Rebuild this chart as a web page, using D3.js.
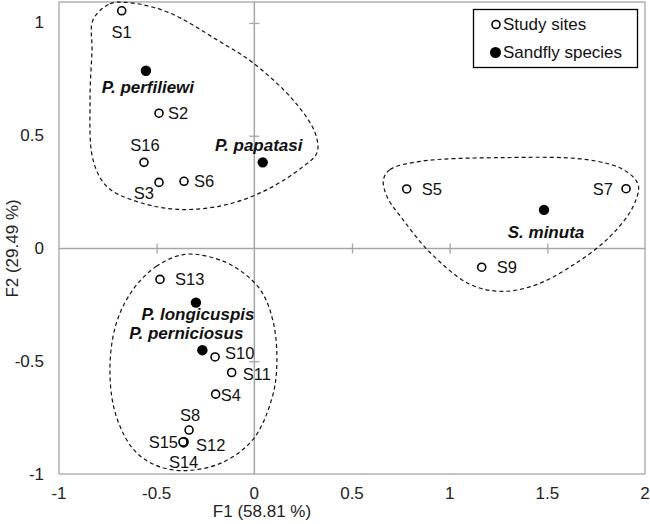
<!DOCTYPE html>
<html>
<head>
<meta charset="utf-8">
<script src="https://cdn.jsdelivr.net/npm/d3@7"></script>
<style>
  html, body { margin: 0; padding: 0; background: #fff; }
  svg text { font-family: "Liberation Sans", Arial, sans-serif; }
</style>
</head>
<body>
<svg id="chart" width="650" height="524"></svg>
<script>
// ---- data ----
const siteNames = ["S1","S2","S3","S4","S5","S6","S7","S8","S9","S10","S11","S12","S13","S14","S15","S16"];
const siteF1 = [-0.679,-0.488,-0.488,-0.198,0.780,-0.360,1.903,-0.334,1.164,-0.201,-0.116,-0.360,-0.483,-0.362,-0.365,-0.565];
const siteF2 = [1.054,0.600,0.293,-0.646,0.264,0.298,0.265,-0.805,-0.083,-0.481,-0.550,-0.857,-0.137,-0.862,-0.858,0.382];

const speciesNames = ["P. perfiliewi","P. papatasi","S. minuta","P. longicuspis","P. perniciosus"];
const speciesF1 = [-0.555,0.043,1.483,-0.299,-0.266];
const speciesF2 = [0.788,0.382,0.171,-0.240,-0.451];

const xTicks = [-1,-0.5,0,0.5,1,1.5,2];
const yTicks = [-1,-0.5,0,0.5,1];
const xTitle = "F1 (58.81 %)";
const yTitle = "F2 (29.49 %)";
const legendLabels = ["Study sites","Sandfly species"];

// group outlines (data units)
const hullTopX = [-0.826,-0.739,-0.621,-0.432,-0.191,-0.007,0.198,0.311,0.321,0.249,0.065,-0.140,-0.381,-0.601,-0.754,-0.826,-0.841,-0.831];
const hullTopY = [1.013,1.085,1.088,1.044,0.925,0.823,0.659,0.513,0.425,0.363,0.261,0.195,0.173,0.208,0.274,0.394,0.659,0.881];
const hullRightX = [0.661,0.695,0.848,1.273,1.704,1.888,1.965,1.939,1.821,1.652,1.448,1.273,1.104,0.900,0.761,0.679];
const hullRightY = [0.305,0.350,0.386,0.403,0.394,0.350,0.283,0.186,0.053,-0.062,-0.159,-0.190,-0.159,-0.018,0.128,0.230];
const hullBottomX = [-0.364,-0.500,-0.620,-0.705,-0.739,-0.713,-0.620,-0.500,-0.346,-0.159,-0.005,0.089,0.115,0.097,0.029,-0.108,-0.244];
const hullBottomY = [-0.027,-0.078,-0.181,-0.327,-0.521,-0.726,-0.890,-0.963,-0.985,-0.947,-0.845,-0.668,-0.521,-0.327,-0.181,-0.078,-0.034];

// ---- label placement (layout only: anchor, dx, dy in px) ----
const labelPlacement = {
  "S1": ["middle",0,21], "S2": ["start",9,0], "S3": ["end",-5,11], "S4": ["start",5,1],
  "S5": ["start",15,0], "S6": ["start",10,0], "S7": ["end",-13,0], "S8": ["middle",1,-15],
  "S9": ["start",15,0], "S10": ["start",10,-4], "S11": ["start",11,1], "S12": ["start",12,3],
  "S13": ["start",15,0], "S14": ["middle",0,19], "S15": ["end",-5,0], "S16": ["middle",1,-17],
  "P. perfiliewi": ["middle",2,17], "P. papatasi": ["middle",-4,-17], "S. minuta": ["middle",2,23],
  "P. longicuspis": ["middle",2,12], "P. perniciosus": ["middle",-16,-17]
};

// ---- chart ----
const svg = d3.select("#chart");
const L = 59, R = 645, T = 2, B = 474;
const x = d3.scaleLinear().domain([-1, 2]).range([L, R]);
const y = d3.scaleLinear().domain([-1, 1.093]).range([B, T]);
const gray = "#a6a6a6";

// plot border
svg.append("rect").attr("x", L).attr("y", T).attr("width", R - L).attr("height", B - T)
  .attr("fill", "none").attr("stroke", gray).attr("stroke-width", 1.3);

// zero axes with cross ticks
const xAxis = d3.axisBottom(x).tickValues(xTicks.filter(v => v !== 0 && v !== -1 && v !== 2))
  .tickSize(10).tickFormat("");
const gx = svg.append("g").attr("transform", `translate(0,${y(0) - 5})`).call(xAxis);
gx.select(".domain").remove();
gx.selectAll(".tick line").attr("stroke", gray).attr("stroke-width", 1.3);
svg.append("line").attr("x1", L).attr("x2", R).attr("y1", y(0)).attr("y2", y(0))
  .attr("stroke", gray).attr("stroke-width", 1.5);

const yAxis = d3.axisLeft(y).tickValues(yTicks.filter(v => v !== 0 && v !== -1))
  .tickSize(10).tickFormat("");
const gy = svg.append("g").attr("transform", `translate(${x(0) + 5},0)`).call(yAxis);
gy.select(".domain").remove();
gy.selectAll(".tick line").attr("stroke", gray).attr("stroke-width", 1.3);
svg.append("line").attr("x1", x(0)).attr("x2", x(0)).attr("y1", T).attr("y2", B)
  .attr("stroke", gray).attr("stroke-width", 1.5);

// tick labels
const fmt = v => String(v);
svg.append("g").selectAll("text").data(xTicks).join("text")
  .attr("x", d => x(d)).attr("y", B + 19).attr("text-anchor", "middle")
  .attr("dominant-baseline", "central").attr("font-size", 17).attr("fill", "#222").text(fmt);
svg.append("g").selectAll("text").data(yTicks).join("text")
  .attr("x", L - 15).attr("y", d => y(d)).attr("text-anchor", "end")
  .attr("dominant-baseline", "central").attr("font-size", 17).attr("fill", "#222").text(fmt);

// axis titles
svg.append("text").attr("x", (L + R) / 2 - 90).attr("y", 511).attr("text-anchor", "middle")
  .attr("dominant-baseline", "central").attr("font-size", 17).attr("fill", "#222").text(xTitle);
svg.append("text").attr("transform", `translate(12,${y(0)}) rotate(-90)`).attr("text-anchor", "middle")
  .attr("dominant-baseline", "central").attr("font-size", 17).attr("fill", "#222").text(yTitle);

// hulls
const line = d3.line().x(d => x(d[0])).y(d => y(d[1])).curve(d3.curveCatmullRomClosed.alpha(0.5));
[[hullTopX, hullTopY], [hullRightX, hullRightY], [hullBottomX, hullBottomY]].forEach(([hx, hy]) => {
  svg.append("path").attr("d", line(hx.map((v, i) => [v, hy[i]])))
    .attr("fill", "none").attr("stroke", "#111").attr("stroke-width", 1.2)
    .attr("stroke-dasharray", "4,3");
});

// sites
const sites = siteNames.map((n, i) => ({ name: n, f1: siteF1[i], f2: siteF2[i] }));
const species = speciesNames.map((n, i) => ({ name: n, f1: speciesF1[i], f2: speciesF2[i] }));

svg.append("g").selectAll("circle").data(sites).join("circle")
  .attr("cx", d => x(d.f1)).attr("cy", d => y(d.f2)).attr("r", 4)
  .attr("fill", "#fff").attr("stroke", "#000").attr("stroke-width", 1.6);
svg.append("g").selectAll("circle").data(species).join("circle")
  .attr("cx", d => x(d.f1)).attr("cy", d => y(d.f2)).attr("r", 5.2).attr("fill", "#000");

svg.append("g").selectAll("text").data(sites).join("text")
  .attr("x", d => x(d.f1) + labelPlacement[d.name][1])
  .attr("y", d => y(d.f2) + labelPlacement[d.name][2])
  .attr("text-anchor", d => labelPlacement[d.name][0])
  .attr("dominant-baseline", "central").attr("font-size", 16.5).attr("fill", "#111").text(d => d.name);
svg.append("g").selectAll("text").data(species).join("text")
  .attr("x", d => x(d.f1) + labelPlacement[d.name][1])
  .attr("y", d => y(d.f2) + labelPlacement[d.name][2])
  .attr("text-anchor", d => labelPlacement[d.name][0])
  .attr("dominant-baseline", "central").attr("font-size", 17).attr("font-weight", "bold")
  .attr("font-style", "italic").attr("fill", "#111").text(d => d.name);

// legend
const lg = svg.append("g");
lg.append("rect").attr("x", 473.5).attr("y", 9.5).attr("width", 164).attr("height", 58)
  .attr("fill", "#fff").attr("stroke", "#000").attr("stroke-width", 1.3);
lg.append("circle").attr("cx", 496).attr("cy", 24.5).attr("r", 4).attr("fill", "#fff")
  .attr("stroke", "#000").attr("stroke-width", 1.6);
lg.append("circle").attr("cx", 495.5).attr("cy", 52.5).attr("r", 5.5).attr("fill", "#000");
lg.selectAll("text").data(legendLabels).join("text")
  .attr("x", 503).attr("y", (d, i) => 24.5 + i * 28).attr("dominant-baseline", "central")
  .attr("font-size", 17).attr("fill", "#111").text(d => d);
</script>
</body>
</html>
